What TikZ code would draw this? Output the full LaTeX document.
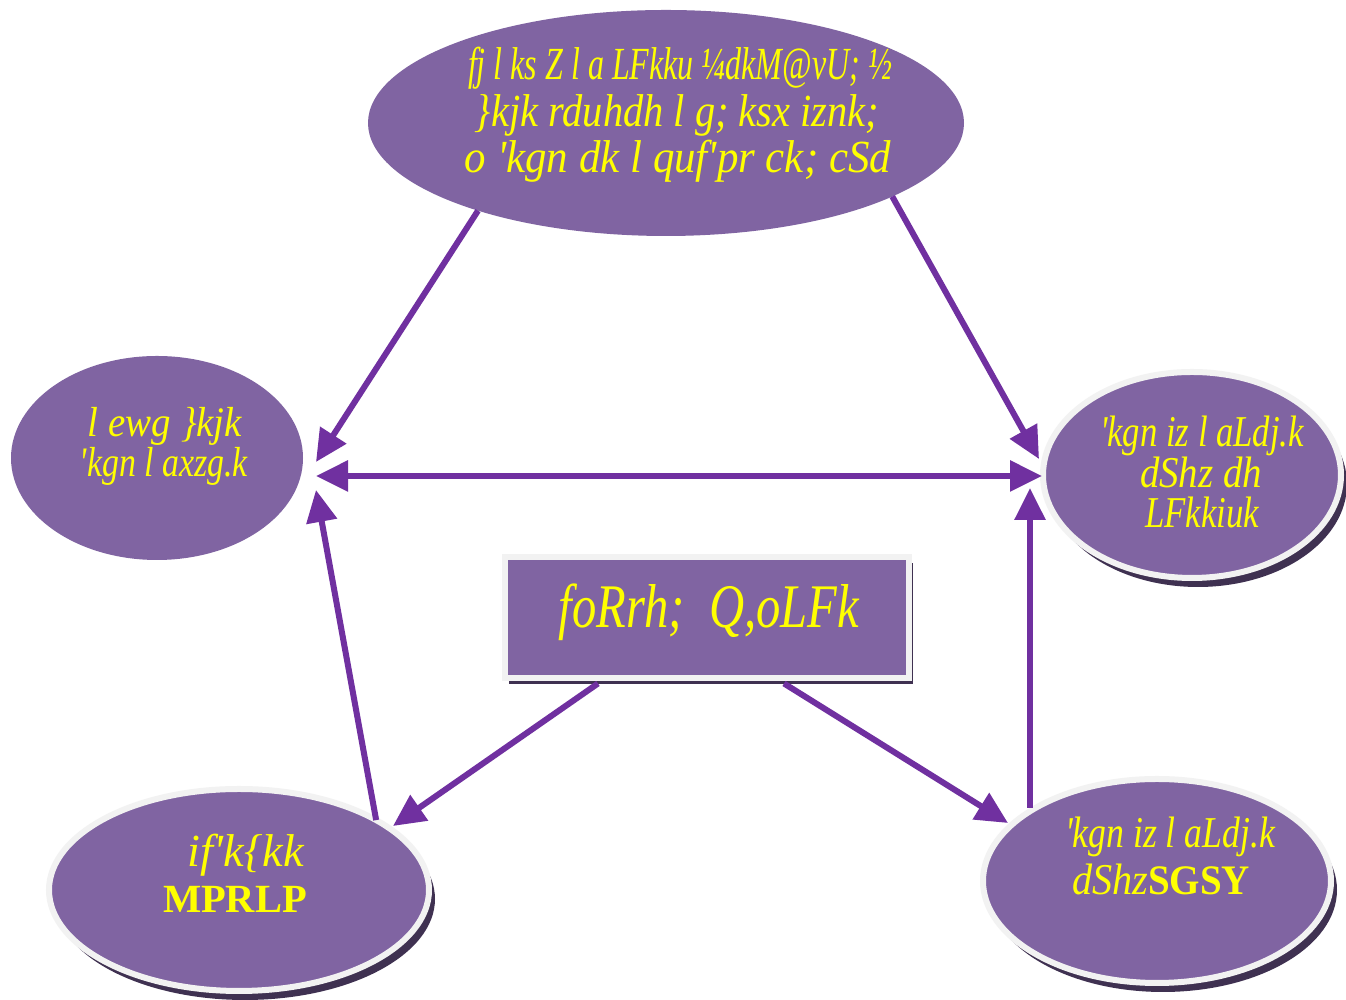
\documentclass[tikz,border=0pt]{standalone}
\usepackage{fontspec}
\setmainfont{Liberation Serif}[Ligatures=TeXOff]
\usepackage{graphicx}
\usetikzlibrary{arrows.meta,calc,shapes.geometric,shadows}
\definecolor{pfill}{HTML}{8064A2}
\definecolor{parrow}{HTML}{7030A0}
\definecolor{pborder}{HTML}{F2F2F2}
\definecolor{pshadow}{HTML}{3F3151}
\definecolor{ytext}{HTML}{FFFF00}
\newcommand\fitw[2]{\resizebox{#1}{\height}{#2}}
\newcommand\fsz[1]{\fontsize{#1}{#1}\selectfont}
\begin{document}
\begin{tikzpicture}[x=0.5pt,y=0.5pt,
  blob/.style={ellipse, fill=pfill, inner sep=0pt, outer sep=0pt},
  rim/.style={draw=pborder, line width=3pt},
  eshade/.style={drop shadow={shadow xshift=3pt, shadow yshift=-4.5pt, fill=pshadow, opacity=1}},
  rshade/.style={drop shadow={shadow xshift=2pt, shadow yshift=-3pt, fill=pshadow, opacity=1}},
  lab/.style={anchor=base, text=ytext, inner sep=0pt, outer sep=0pt, text height=0.62em, text depth=0.12em},
  >={Triangle[length=16pt,width=15pt]},
  conn/.style={draw=parrow, line width=3pt, ->},
  conn2/.style={draw=parrow, line width=3pt, <->},
]
\useasboundingbox[fill=white] (0,0) rectangle (1346,1000);

% shapes
\node[blob, minimum width=298pt, minimum height=113pt] (T) at (666,877) {};
\node[blob, minimum width=146pt, minimum height=102pt] (L) at (157,542) {};
\node[blob, rim, eshade, minimum width=149pt, minimum height=103pt] (R) at (1192,525) {};
\node[rectangle, fill=pfill, rim, rshade, inner sep=0pt, outer sep=0pt,
      minimum width=202pt, minimum height=60.5pt] (C) at (707,382) {};
\node[blob, rim, eshade, minimum width=190pt, minimum height=101pt] (BL) at (239,110) {};
\node[blob, rim, eshade, minimum width=174pt, minimum height=102pt] (BR) at (1157,119) {};

% texts
\node[lab, font=\itshape\fsz{23}] (t1) at (680,920) {\fitw{212pt}{fj l ks Z l a LFkku ¼dkM@vU; ½}};
\node[lab, font=\itshape\fsz{23}] (t2) at (677,873) {\fitw{202pt}{\}kjk rduhdh l g; ksx iznk;}};
\node[lab, font=\itshape\fsz{23}] (t3) at (678,827) {\fitw{213pt}{o 'kgn dk l quf'pr ck; cSd}};

\node[lab, font=\itshape\fsz{21}] (l1) at (165,563) {\fitw{77pt}{l ewg \}kjk}};
\node[lab, font=\itshape\fsz{21}] (l2) at (164,523) {\fitw{84pt}{'kgn l axzg.k}};

\node[lab, font=\itshape\fsz{22}] (r1) at (1202,553) {\fitw{102pt}{'kgn iz l aLdj.k}};
\node[lab, font=\itshape\fsz{22}] (r2) at (1201,512) {\fitw{61pt}{dShz dh}};
\node[lab, font=\itshape\fsz{22}] (r3) at (1202,472) {\fitw{57pt}{LFkkiuk}};

\node[lab, font=\itshape\fsz{31}] (c1) at (709,372) {\fitw{150pt}{foRrh;\ \ Q,oLFk}};

\node[lab, font=\itshape\fsz{23}] (b1) at (246,133) {\fitw{58pt}{if'k\{kk}};
\node[lab, font=\bfseries\fsz{20}] (b2) at (235,87) {\fitw{72pt}{MPRLP}};

\node[lab, font=\itshape\fsz{22}] (s1) at (1170,152) {\fitw{105pt}{'kgn iz l aLdj.k}};
\node[lab, font=\fsz{22}] (s2) at (1161,105) {\fitw{38pt}{\itshape dShz}\fitw{51pt}{\bfseries\fsz{21}SGSY}};

% connectors
\draw[conn] (T.205) -- ($(L.east)+(13,-4)$);
\draw[conn] (T.342) -- ($(R.west)+(-4,16)$);
\draw[conn2] ($(L.east)+(13,-18)$) -- ($(R.west)+(-1,-1)$);
\draw[conn] (BL.27) -- ($(L.east)+(13,-32)$);
\draw[conn] ($(C.south)+(-109,-5)$) -- ($(BL.center)+(154,64)$);
\draw[conn] ($(C.south)+(77,-5)$) -- ($(BR.center)+(-149,58)$);
\draw[conn] ($(BR.center)+(-127,73)$) -- ($(R.west)+(-13,-13)$);
\end{tikzpicture}
\end{document}
